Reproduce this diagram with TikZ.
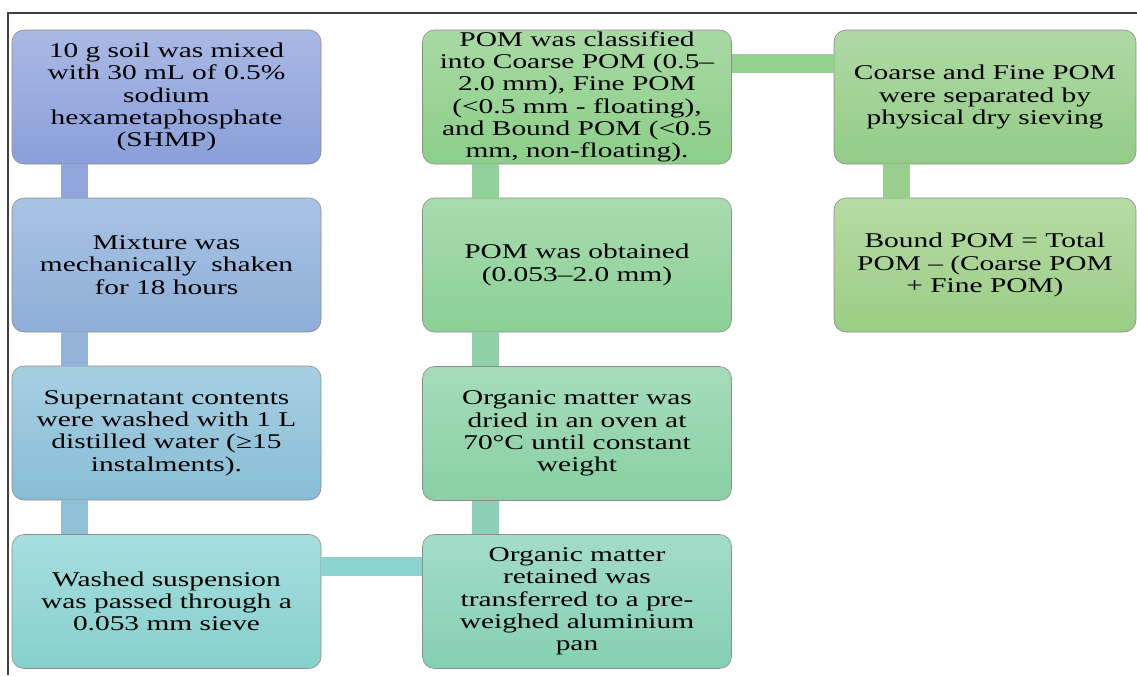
\documentclass[tikz,border=0pt]{standalone}
\usepackage{fontspec}
\setmainfont[FakeStretch=1.4]{Liberation Serif}
\usetikzlibrary{calc}

\definecolor{blueA}{HTML}{A9B9E5}\definecolor{blueB}{HTML}{8B9FD9}
\definecolor{steelA}{HTML}{A8C3E4}\definecolor{steelB}{HTML}{8EAED8}
\definecolor{skyA}{HTML}{A6CFE3}\definecolor{skyB}{HTML}{89BDD4}
\definecolor{tealA}{HTML}{A6DEDE}\definecolor{tealB}{HTML}{86D0CB}
\definecolor{mintA}{HTML}{A3DCC9}\definecolor{mintB}{HTML}{85CFB4}
\definecolor{seaA}{HTML}{A5DCBB}\definecolor{seaB}{HTML}{89D0A3}
\definecolor{leafA}{HTML}{A8DCAF}\definecolor{leafB}{HTML}{8BD096}
\definecolor{grassA}{HTML}{A8D9A3}\definecolor{grassB}{HTML}{8CCF89}
\definecolor{oliveA}{HTML}{AFD9A4}\definecolor{oliveB}{HTML}{93CC87}
\definecolor{limeA}{HTML}{B6DBA4}\definecolor{limeB}{HTML}{9BCD85}

\tikzset{
  stage/.style={rectangle, rounded corners=12pt, draw=black!45, line width=0.6pt,
    minimum width=309pt, minimum height=134pt, inner sep=0pt, align=center,
    font=\fontsize{21}{22.3}\selectfont},
  link/.style={line width=27pt},
  hlink/.style={line width=19pt},
}

\begin{document}
\begin{tikzpicture}[x=1pt,y=-1pt]
  \useasboundingbox (0,0) rectangle (1137,675);
  \draw[black!75, line width=1.4pt] (8,675) -- (8,13) -- (1137,13);

  % Define nodes
  \node[stage, top color=blueA, bottom color=blueB] (A) at (166.5,97)
    {10 g soil was mixed\\with 30 mL of 0.5\%\\sodium\\hexametaphosphate\\(SHMP)};
  \node[stage, top color=steelA, bottom color=steelB] (B) at (166.5,265)
    {Mixture was\\mechanically\ \ shaken\\for 18 hours};
  \node[stage, top color=skyA, bottom color=skyB] (C) at (166.5,433)
    {Supernatant contents\\were washed with 1 L\\distilled water (≥15\\instalments).};
  \node[stage, top color=tealA, bottom color=tealB] (D) at (166.5,601.5)
    {Washed suspension\\was passed through a\\0.053 mm sieve};

  \node[stage, top color=mintA, bottom color=mintB] (E) at (577,601.5)
    {Organic matter\\retained was\\transferred to a pre-\\weighed aluminium\\pan};
  \node[stage, top color=seaA, bottom color=seaB] (F) at (577,433.5)
    {Organic matter was\\dried in an oven at\\70°C until constant\\weight};
  \node[stage, top color=leafA, bottom color=leafB] (G) at (577,265)
    {POM was obtained\\(0.053–2.0 mm)};
  \node[stage, top color=grassA, bottom color=grassB] (H) at (577,97)
    {POM was classified\\into Coarse POM (0.5–\\2.0 mm), Fine POM\\(<0.5 mm - floating),\\and Bound POM (<0.5\\mm, non-floating).};

  \node[stage, minimum width=302pt, top color=oliveA, bottom color=oliveB] (I) at (985,97)
    {Coarse and Fine POM\\were separated by\\physical dry sieving};
  \node[stage, minimum width=302pt, top color=limeA, bottom color=limeB] (J) at (985,265)
    {Bound POM = Total\\POM – (Coarse POM\\+ Fine POM)};

  % Draw links
  \draw[link, color=blueB!95!white] ($(A.south west)+(62.5,0)$) -- ($(B.north west)+(62.5,0)$);
  \draw[link, color=steelB!95!white] ($(B.south west)+(62.5,0)$) -- ($(C.north west)+(62.5,0)$);
  \draw[link, color=skyB!95!white] ($(C.south west)+(62.5,0)$) -- ($(D.north west)+(62.5,0)$);
  \draw[hlink, color=tealB!95!white] ($(D.north east)+(0,32)$) -- ($(E.north west)+(0,32)$);
  \draw[link, color=mintB!95!white] ($(E.north west)+(63,0)$) -- ($(F.south west)+(63,0)$);
  \draw[link, color=seaB!95!white] ($(F.north west)+(63,0)$) -- ($(G.south west)+(63,0)$);
  \draw[link, color=leafB!95!white] ($(G.north west)+(63,0)$) -- ($(H.south west)+(63,0)$);
  \draw[hlink, color=grassB!95!white] ($(H.north east)+(0,34)$) -- ($(I.north west)+(0,34)$);
  \draw[link, color=oliveB!95!white] ($(I.south west)+(62.5,0)$) -- ($(J.north west)+(62.5,0)$);
\end{tikzpicture}
\end{document}
